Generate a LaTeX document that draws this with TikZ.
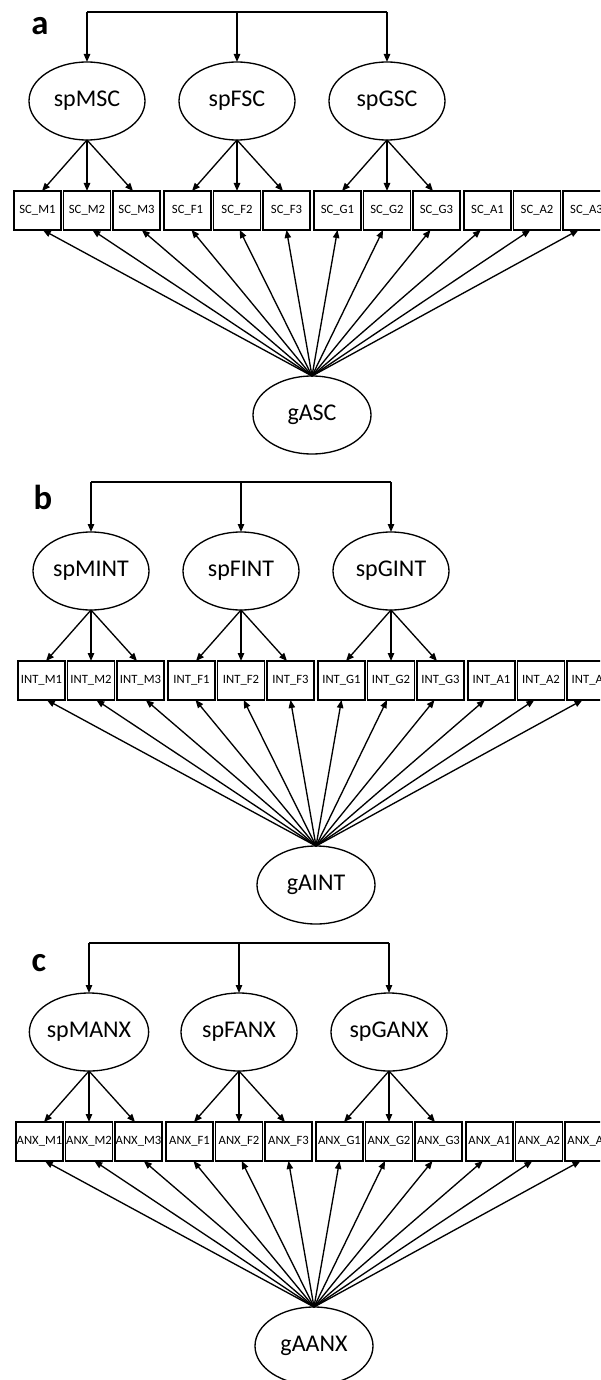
\documentclass[tikz,border=0pt]{standalone}
\usepackage{fontspec}
\setmainfont{Carlito}
\usetikzlibrary{arrows.meta,shapes.geometric}

\tikzset{
  conn/.style={line width=1pt, draw=black},
  arr/.style={conn, -{Triangle[length=6pt,width=4.8pt]}},
  latent/.style={ellipse, draw, line width=1pt, outer sep=0pt, inner sep=0pt,
    minimum width=87pt, minimum height=58.5pt, font=\fontsize{18}{18}\selectfont},
  general/.style={latent, minimum width=88.5pt},
  indicator/.style={rectangle, draw, line width=1.3pt, outer sep=0pt, inner sep=0pt,
    minimum width=35.25pt, minimum height=29.25pt, font=\fontsize{9.5}{9.5}\selectfont},
  panellabel/.style={font=\fontsize{26}{26}\selectfont\bfseries, inner sep=0pt}
}

% One bifactor model: #1,#2 shift; #3 letter; #4,#5 letter position;
% #6 indicator stem; #7 factor stem; #8 general factor; #9 name prefix
\newcommand\semPanel[9]{%
\begin{scope}[shift={(#1,#2)}]
  \node[panellabel] (#9-lab) at (#4,#5) {#3};
  % specific factors
  \foreach \f/\g in {M/0,F/1,G/2}{
    \node[latent] (#9-\f) at ({87+\g*150},101) {sp\f#7};
    \coordinate (#9-t\f) at ({87+\g*150},12);
  }
  % indicators
  \foreach \f/\g in {M/0,F/1,G/2,A/3}{
    \foreach \k in {1,2,3}{
      \node[indicator] (#9-\f\k) at ({37.5+\g*150+(\k-1)*49.5},210.5) {#6\_\f\k};
    }
  }
  % general factor
  \node[general] (#9-g) at (312,415) {#8};
  % correlation bar on top
  \draw[conn] (#9-tM) -- (#9-tG);
  \foreach \f in {M,F,G}{ \draw[arr] (#9-t\f) -- (#9-\f); }
  % specific loadings
  \foreach \f in {M,F,G}{
    \draw[arr] (#9-\f.south) -- ([xshift=3.4pt]#9-\f1.north);
    \draw[arr] (#9-\f.south) -- (#9-\f2.north);
    \draw[arr] (#9-\f.south) -- ([xshift=-2.6pt]#9-\f3.north);
  }
  % general loadings
  \foreach \b/\o in {M1/4pt,M2/4pt,M3/4pt,F1/3pt,F2/2pt,F3/0pt,G1/0pt,G2/-3pt,G3/-4.5pt,A1/-5pt,A2/-5pt,A3/-6pt}{
    \draw[arr] (#9-g.north) -- ([xshift=\o]#9-\b.south);
  }
\end{scope}}

\begin{document}
\begin{tikzpicture}[x=0.75pt,y=-0.75pt]
  \useasboundingbox (0,0) rectangle (600,1380);
  \clip (0,0) rectangle (600,1380);
  \semPanel{0}{0}{a}{40}{26}{SC}{SC}{gASC}{pa}
  \semPanel{4}{470}{b}{39}{27}{INT}{INT}{gAINT}{pb}
  \semPanel{2}{931}{c}{37}{32}{ANX}{ANX}{gAANX}{pc}
\end{tikzpicture}
\end{document}
